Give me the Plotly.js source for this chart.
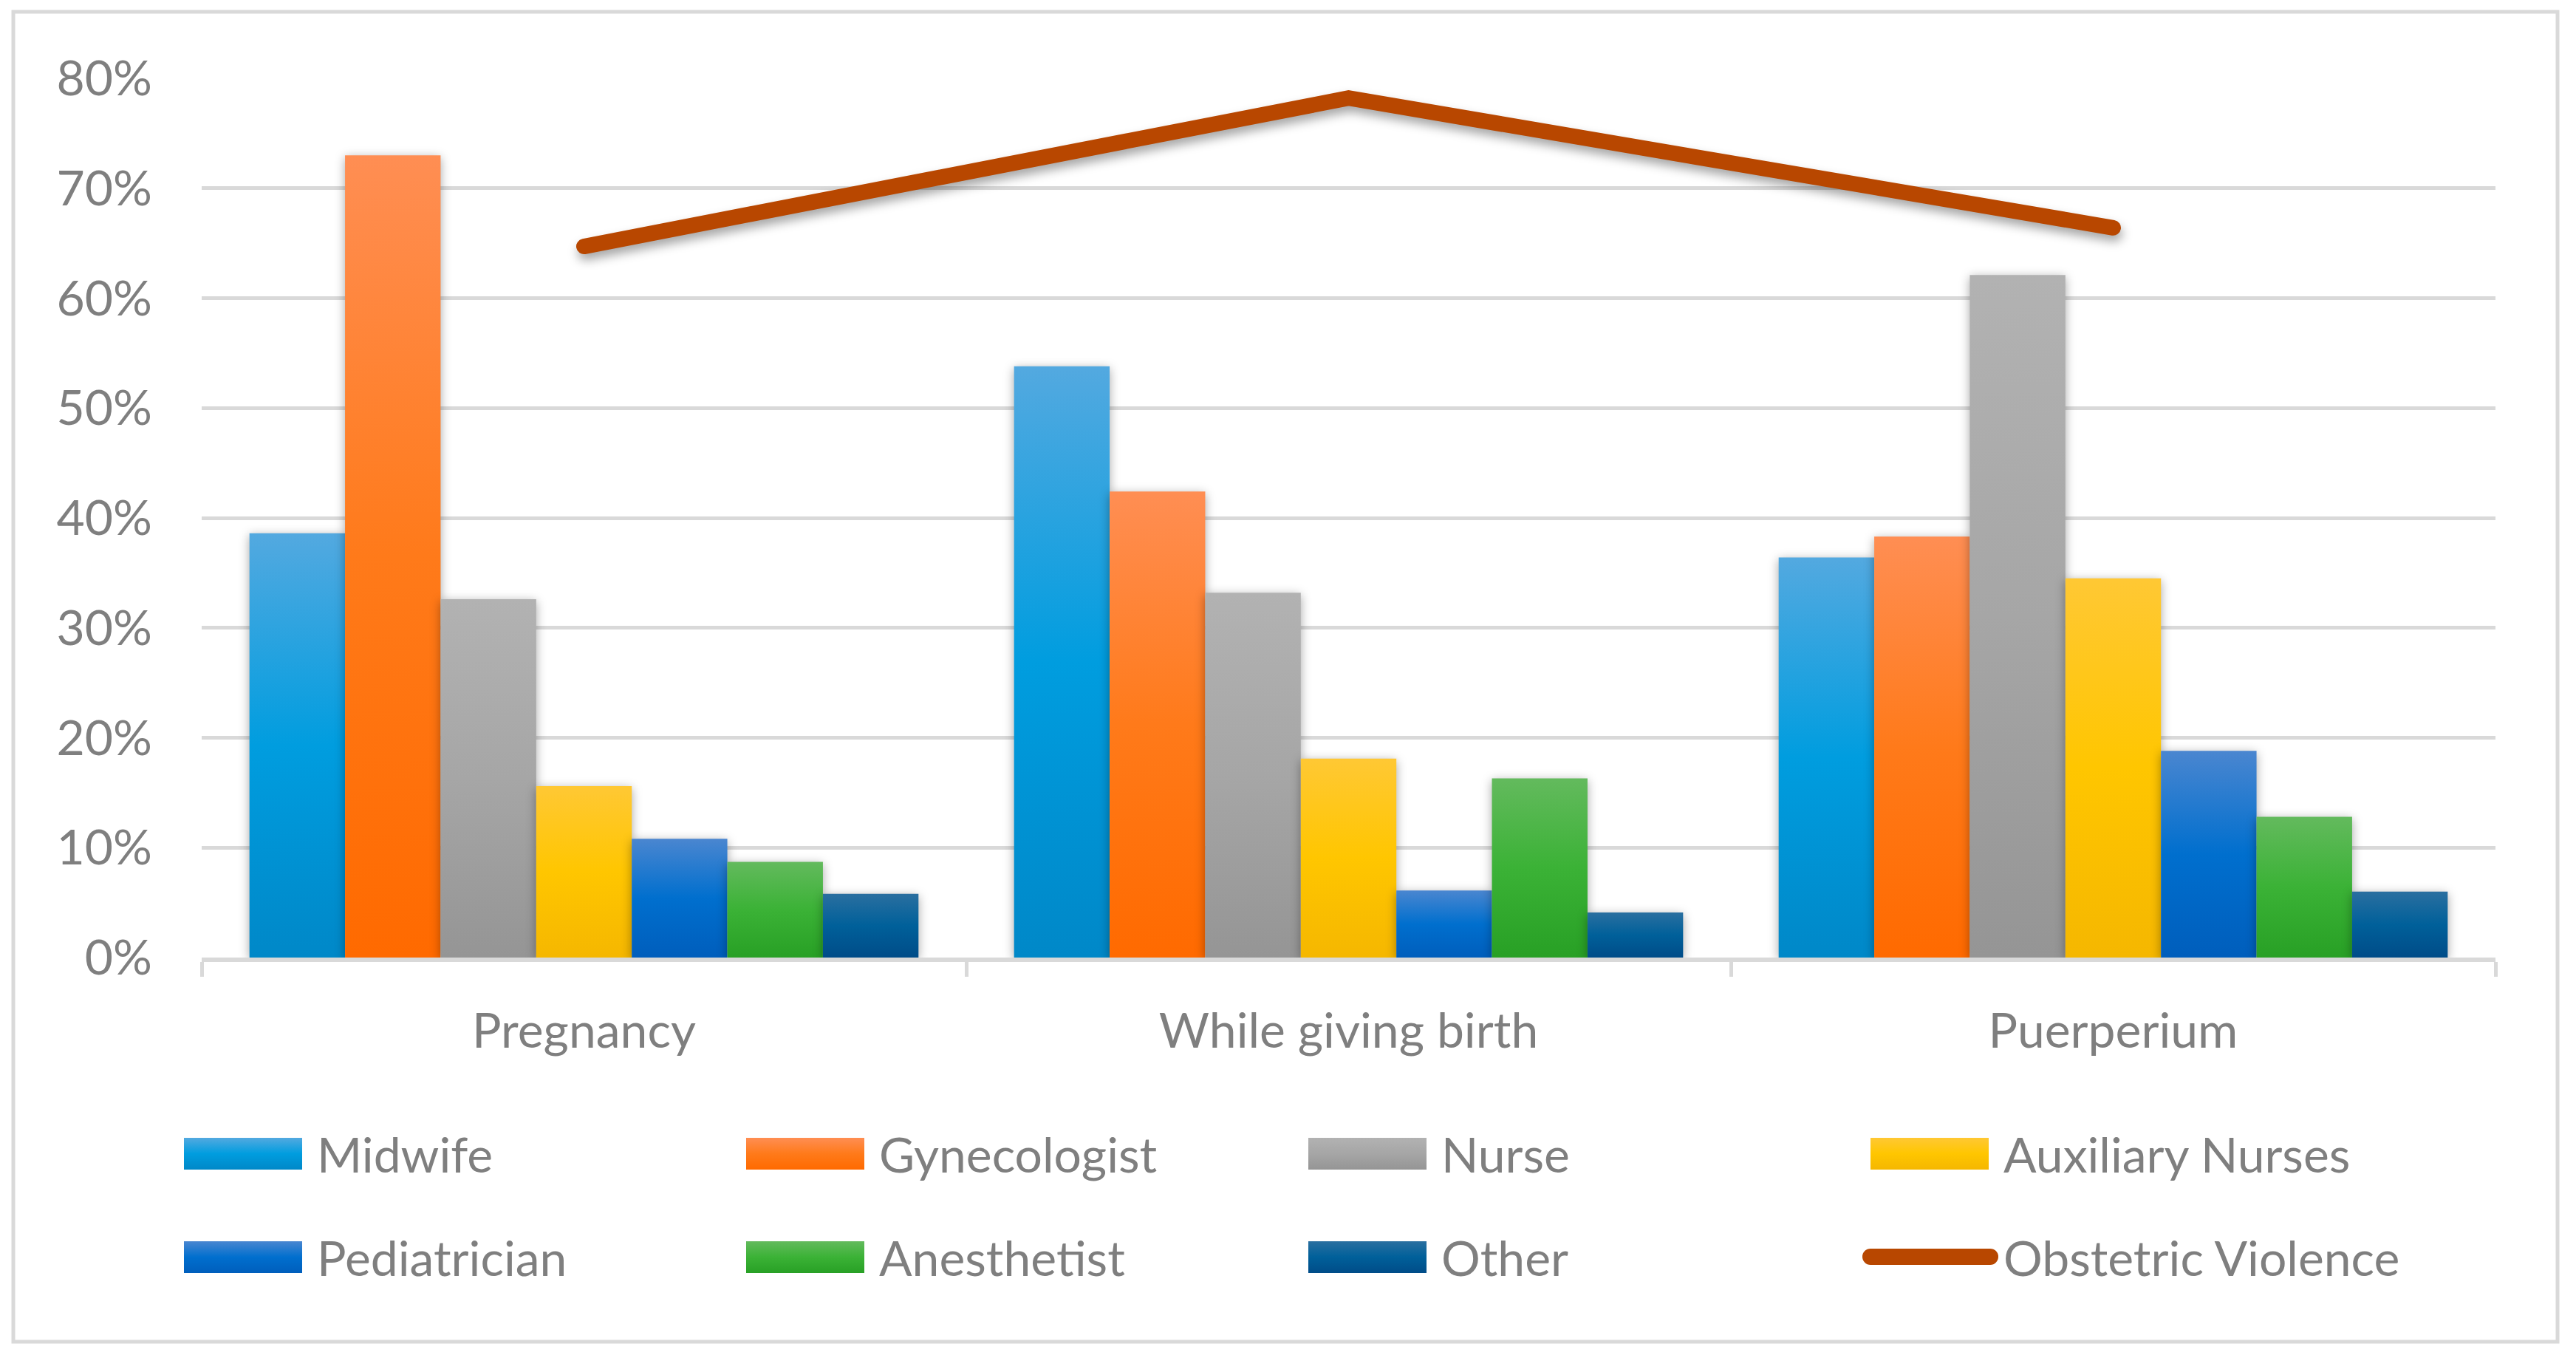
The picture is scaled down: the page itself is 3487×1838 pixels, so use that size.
<!DOCTYPE html>
<html>
<head>
<meta charset="utf-8">
<script src="https://cdn.plot.ly/plotly-3.0.1.min.js"></script>
<style>
  html, body { margin: 0; padding: 0; background: #ffffff; }
  #chart { width: 3487px; height: 1838px; }
  .barlayer .point path { filter: drop-shadow(0px 3px 7px rgba(0,0,0,0.35)); }
  .scatterlayer path.js-line { stroke-linecap: round; filter: drop-shadow(2px 8px 7px rgba(0,0,0,0.35)); }
  .legendlines path.ov-line { stroke-width: 22px !important; stroke-linecap: round !important; }
</style>
</head>
<body>
<div id="chart"></div>
<script>
// ---- data ----
const categories = ['Pregnancy', 'While giving birth', 'Puerperium'];
const midwife      = [0.386, 0.538, 0.364];
const gynecologist = [0.730, 0.424, 0.383];
const nurse        = [0.326, 0.332, 0.621];
const auxiliary    = [0.156, 0.181, 0.345];
const pediatrician = [0.108, 0.061, 0.188];
const anesthetist  = [0.087, 0.163, 0.128];
const other        = [0.058, 0.041, 0.060];
const obstetricViolence = [0.647, 0.782, 0.664];
const yTickVals = [0, 0.1, 0.2, 0.3, 0.4, 0.5, 0.6, 0.7, 0.8];

const barSeries = [
  {name: 'Midwife', y: midwife, color: '#009DDF', legend: 'legend'},
  {name: 'Gynecologist', y: gynecologist, color: '#FF7A1A', legend: 'legend'},
  {name: 'Nurse', y: nurse, color: '#A6A6A6', legend: 'legend'},
  {name: 'Auxiliary Nurses', y: auxiliary, color: '#FFC600', legend: 'legend'},
  {name: 'Pediatrician', y: pediatrician, color: '#006FCE', legend: 'legend2'},
  {name: 'Anesthetist', y: anesthetist, color: '#3BB236', legend: 'legend2'},
  {name: 'Other', y: other, color: '#00609A', legend: 'legend2'}
];
const lineName = 'Obstetric Violence';
const gradients = [
  ['#53A9E0', '#009DDF', '#0088C8'],
  ['#FF8E53', '#FF7A1A', '#FF6A00'],
  ['#B2B2B2', '#A6A6A6', '#959595'],
  ['#FFC834', '#FFC600', '#F5B700'],
  ['#4A86D0', '#006FCE', '#005EBC'],
  ['#63BA5D', '#3BB236', '#28A025'],
  ['#2A6FA0', '#00609A', '#004C88']
];

const FONT = 'Lato, "Liberation Sans", sans-serif';
const GRAY = '#7f7f7f';
const GRID = '#d9d9d9';

const traces = barSeries.map(s => ({
  type: 'bar', name: s.name, x: categories, y: s.y,
  marker: {color: s.color, line: {width: 0}},
  legend: s.legend
}));
traces.push({
  type: 'scatter', mode: 'lines', name: lineName,
  x: categories, y: obstetricViolence,
  line: {color: '#B84700', width: 21},
  legend: 'legend2'
});

const W = 3487, H = 1838;
const M = {l: 273, r: 109, t: 106, b: 542};
const pw = W - M.l - M.r, ph = H - M.t - M.b;

const legendBase = {
  orientation: 'h', xref: 'container', yref: 'container',
  xanchor: 'left', yanchor: 'middle',
  font: {family: FONT, size: 66, color: GRAY},
  itemwidth: 180, entrywidth: 566, entrywidthmode: 'pixels',
  bgcolor: 'rgba(0,0,0,0)', traceorder: 'normal'
};

const layout = {
  width: W, height: H,
  margin: M,
  paper_bgcolor: '#ffffff', plot_bgcolor: '#ffffff',
  font: {family: FONT, color: GRAY, size: 66},
  barmode: 'group', bargap: 0.125, bargroupgap: 0,
  showlegend: true,
  legend: Object.assign({}, legendBase, {x: 239 / W, y: 1 - 1561 / H}),
  legend2: Object.assign({}, legendBase, {x: 239 / W, y: 1 - 1701 / H}),
  xaxis: {
    type: 'category',
    showline: true, linecolor: GRID, linewidth: 6,
    ticks: 'outside', ticklen: 20, tickwidth: 5, tickcolor: GRID,
    tickson: 'boundaries', showgrid: false, zeroline: false,
    tickfont: {family: FONT, size: 66, color: GRAY},
    ticklabelstandoff: 37
  },
  yaxis: {
    range: [0, 0.8], tickvals: yTickVals, tickformat: '.0%',
    showgrid: true, gridcolor: GRID, gridwidth: 5,
    zeroline: false, showline: false, ticks: '',
    tickfont: {family: FONT, size: 66, color: GRAY},
    ticklabelstandoff: 66
  },
  shapes: [{
    type: 'rect', xref: 'paper', yref: 'paper', layer: 'below',
    x0: (18 - M.l) / pw, x1: (3462 - M.l) / pw,
    y0: (ph + M.t - 1816) / ph, y1: (ph + M.t - 16) / ph,
    line: {color: GRID, width: 5}, fillcolor: 'rgba(0,0,0,0)'
  }]
};

function ensureDefs(gd) {
  const svg = gd.querySelector('svg.main-svg');
  if (!svg || svg.querySelector('#barGrad0')) return;
  const ns = 'http://www.w3.org/2000/svg';
  let defs = svg.querySelector('defs');
  if (!defs) { defs = document.createElementNS(ns, 'defs'); svg.insertBefore(defs, svg.firstChild); }
  gradients.forEach((g, i) => {
    const lg = document.createElementNS(ns, 'linearGradient');
    lg.setAttribute('id', 'barGrad' + i);
    lg.setAttribute('x1', '0'); lg.setAttribute('y1', '0');
    lg.setAttribute('x2', '0'); lg.setAttribute('y2', '1');
    [[0, g[0]], [0.5, g[1]], [1, g[2]]].forEach(([o, c]) => {
      const st = document.createElementNS(ns, 'stop');
      st.setAttribute('offset', o); st.setAttribute('stop-color', c);
      lg.appendChild(st);
    });
    defs.appendChild(lg);
  });
}

function decorate() {
  const gd = document.getElementById('chart');
  ensureDefs(gd);
  gd.querySelectorAll('.barlayer .trace').forEach((tr, i) => {
    tr.querySelectorAll('.point path').forEach(p => { p.style.fill = 'url(#barGrad' + i + ')'; });
  });
  gd.querySelectorAll('g.traces').forEach(item => {
    const text = item.querySelector('text');
    if (!text) return;
    const tx = parseFloat(text.getAttribute('x')) || 0;
    const name = text.textContent;
    if (name === lineName) {
      const lineP = item.querySelector('.legendlines path');
      if (lineP) {
        lineP.removeAttribute('transform');
        lineP.classList.add('ov-line');
        lineP.setAttribute('d', 'M' + (tx - 180) + ',0H' + (tx - 18));
      }
      return;
    }
    const idx = barSeries.findIndex(s => s.name === name);
    item.querySelectorAll('.legendpoints path').forEach(p => {
      p.removeAttribute('transform');
      p.setAttribute('d', 'M' + (tx - 180) + ',-21H' + (tx - 20) + 'V22H' + (tx - 180) + 'Z');
      if (idx >= 0) p.style.fill = 'url(#barGrad' + idx + ')';
    });
  });
}

Plotly.newPlot('chart', traces, layout, {staticPlot: true, displayModeBar: false}).then(gd => {
  decorate();
  gd.on('plotly_afterplot', decorate);
  [0, 30, 100, 300, 700].forEach(t => setTimeout(decorate, t));
  requestAnimationFrame(decorate);
});
</script>
</body>
</html>
